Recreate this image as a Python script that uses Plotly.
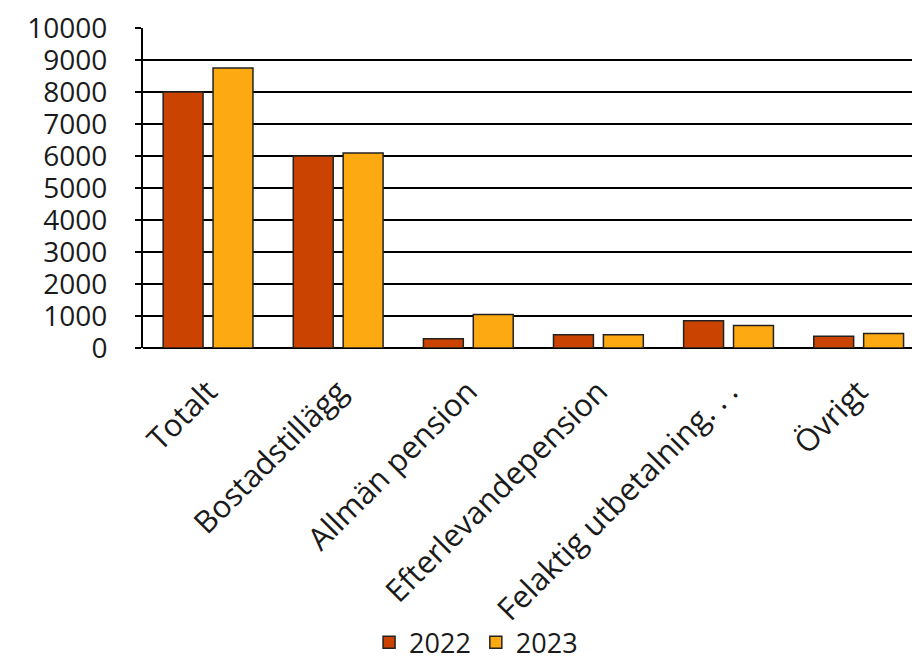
import plotly.graph_objects as go

# Kategorier och värden per år
categories = ["Totalt", "Bostadstillägg", "Allmän pension", "Efterlevandepension",
              "Felaktig utbetalning.\u2005.\u2005.", "Övrigt"]
values_2022 = [8000, 6000, 290, 415, 855, 365]
values_2023 = [8750, 6090, 1050, 415, 700, 455]
series_names = ["2022", "2023"]
colors = ["#CA4300", "#FDA912"]

fig = go.Figure()
for name, vals, col in zip(series_names, [values_2022, values_2023], colors):
    fig.add_trace(go.Bar(
        x=categories, y=vals, name=name,
        marker=dict(color=col, line=dict(color="#222222", width=1.5)),
    ))

font_family = "Open Sans, Segoe UI, sans-serif"
fig.update_layout(
    width=912, height=664,
    margin=dict(l=143, r=0, t=28, b=316, autoexpand=False),
    paper_bgcolor="white", plot_bgcolor="white",
    barmode="group", bargap=0.233, bargroupgap=0.2,
    font=dict(family=font_family, color="#1a1a1a", size=28),
    showlegend=True,
    legend=dict(orientation="h", xref="container", yref="container",
                x=0.522, xanchor="center", y=0.032, yanchor="middle",
                bgcolor="rgba(0,0,0,0)",
                font=dict(size=27), itemwidth=30, traceorder="normal"),
)
fig.update_xaxes(
    type="category", range=[-0.5, 5.41], automargin=False,
    tickangle=-45, tickfont=dict(size=31),
    showline=False, showgrid=False, ticks="outside", ticklen=12, tickcolor="rgba(0,0,0,0)",
)
fig.update_yaxes(
    range=[0, 10000], dtick=1000, tickformat="d", automargin=False,
    showgrid=True, gridcolor="black", gridwidth=2,
    showline=True, linecolor="black", linewidth=2,
    ticks="outside", ticklen=6, tickcolor="black", tickwidth=2,
    ticklabelstandoff=22,
    tickfont=dict(size=28), zeroline=True, zerolinecolor="black", zerolinewidth=2,
)

fig.write_html("out.html")
